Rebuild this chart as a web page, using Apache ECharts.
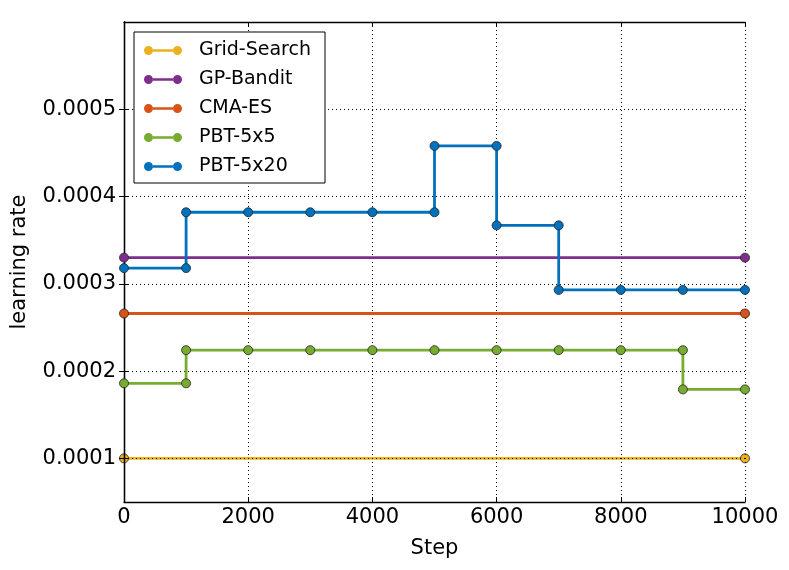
<!DOCTYPE html>
<html>
<head>
    <meta charset="utf-8">
    <script src="https://cdn.jsdelivr.net/npm/echarts@6/dist/echarts.min.js"></script>
    <style>
        html, body { margin: 0; padding: 0; background: #fff; }
    </style>
</head>
<body>
    <div id="main" style="width: 789px; height: 570px"></div>
    <script type="text/javascript">
        // [step, learning rate]
        var gridSearch = [[0, 0.0001], [10000, 0.0001]];
        var gpBandit = [[0, 0.00033], [10000, 0.00033]];
        var cmaEs = [[0, 0.000266], [10000, 0.000266]];
        var pbt5x5 = [
            [0, 0.000186], [1000, 0.000186], [1000, 0.000224], [2000, 0.000224],
            [3000, 0.000224], [4000, 0.000224], [5000, 0.000224], [6000, 0.000224],
            [7000, 0.000224], [8000, 0.000224], [9000, 0.000224], [9000, 0.000179],
            [10000, 0.000179]
        ];
        var pbt5x20 = [
            [0, 0.000318], [1000, 0.000318], [1000, 0.000382], [2000, 0.000382],
            [3000, 0.000382], [4000, 0.000382], [5000, 0.000382], [5000, 0.000458],
            [6000, 0.000458], [6000, 0.000367], [7000, 0.000367], [7000, 0.000293],
            [8000, 0.000293], [9000, 0.000293], [10000, 0.000293]
        ];
        var seriesNames = ['Grid-Search', 'GP-Bandit', 'CMA-ES', 'PBT-5x5', 'PBT-5x20'];
        var seriesColors = ['#EDB120', '#7E2F8E', '#D95319', '#77AC30', '#0072BD'];
        var yTicks = [0.0001, 0.0002, 0.0003, 0.0004, 0.0005];

        var font = 'DejaVu Sans';
        // two markers joined by a line, like a matplotlib legend handle
        var legendIcon = 'path://M0,4.5a4.5,4.5 0 1,0 9,0a4.5,4.5 0 1,0 -9,0z M8.8,3.2h20.4v2.6h-20.4z M29,4.5a4.5,4.5 0 1,0 9,0a4.5,4.5 0 1,0 -9,0z';

        function makeSeries(name, data, color, z) {
            return {
                name: name,
                type: 'line',
                data: data,
                z: z,
                symbol: 'circle',
                symbolSize: 9,
                showAllSymbol: true,
                animation: false,
                lineStyle: { color: color, width: 2.8 },
                itemStyle: { color: color, borderColor: '#222', borderWidth: 0.8 }
            };
        }

        var axisBase = {
            axisLine: { show: true, lineStyle: { color: '#000', width: 1.3 } },
            axisTick: { show: true, inside: true, length: 5, lineStyle: { color: '#000', width: 1 } }
        };

        var myChart = echarts.init(document.getElementById('main'));
        var option = {
            backgroundColor: '#fff',
            animation: false,
            grid: { left: 124, right: 44, top: 22, bottom: 68, containLabel: false },
            legend: {
                orient: 'vertical',
                left: 134,
                top: 32,
                data: seriesNames,
                icon: legendIcon,
                itemWidth: 38,
                itemHeight: 9,
                itemGap: 10,
                padding: [9, 14, 7, 10],
                backgroundColor: '#fff',
                borderColor: '#000',
                borderWidth: 1,
                borderRadius: 0,
                itemStyle: { borderWidth: 0 },
                textStyle: { fontFamily: font, fontSize: 19, color: '#000', padding: [0, 0, 0, 12] }
            },
            xAxis: [
                Object.assign({}, axisBase, {
                    type: 'value',
                    min: 0, max: 10000, interval: 2000,
                    name: 'Step',
                    nameLocation: 'middle',
                    nameGap: 36,
                    nameTextStyle: { fontFamily: font, fontSize: 21, color: '#000' },
                    axisLabel: {
                        fontFamily: font, fontSize: 21, color: '#000', margin: 5,
                        formatter: function (v) { return String(v); }
                    },
                    splitLine: { show: true, lineStyle: { color: '#000', type: [1, 3], width: 1 } }
                }),
                Object.assign({}, axisBase, {
                    type: 'value', position: 'top',
                    min: 0, max: 10000, interval: 2000,
                    axisLabel: { show: false },
                    splitLine: { show: false }
                })
            ],
            yAxis: [
                Object.assign({}, axisBase, {
                    type: 'value',
                    min: 0.00005, max: 0.0006,
                    name: 'learning rate',
                    nameLocation: 'middle',
                    nameGap: 94,
                    nameTextStyle: { fontFamily: font, fontSize: 21, color: '#000' },
                    axisTick: { show: true, inside: true, length: 5, customValues: yTicks, lineStyle: { color: '#000', width: 1 } },
                    axisLabel: {
                        fontFamily: font, fontSize: 21, color: '#000', margin: 8,
                        customValues: yTicks,
                        formatter: function (v) { return v.toFixed(4); }
                    },
                    splitLine: { show: true, lineStyle: { color: '#000', type: [1, 3], width: 1 } }
                }),
                Object.assign({}, axisBase, {
                    type: 'value', position: 'right',
                    min: 0.00005, max: 0.0006,
                    axisTick: { show: true, inside: true, length: 5, customValues: yTicks, lineStyle: { color: '#000', width: 1 } },
                    axisLabel: { show: false, customValues: yTicks },
                    splitLine: { show: false }
                })
            ],
            series: [
                makeSeries(seriesNames[0], gridSearch, seriesColors[0], -1),
                makeSeries(seriesNames[1], gpBandit, seriesColors[1], 2),
                makeSeries(seriesNames[2], cmaEs, seriesColors[2], 2),
                makeSeries(seriesNames[3], pbt5x5, seriesColors[3], 2),
                makeSeries(seriesNames[4], pbt5x20, seriesColors[4], 2)
            ]
        };
        myChart.setOption(option);
    </script>
</body>
</html>
